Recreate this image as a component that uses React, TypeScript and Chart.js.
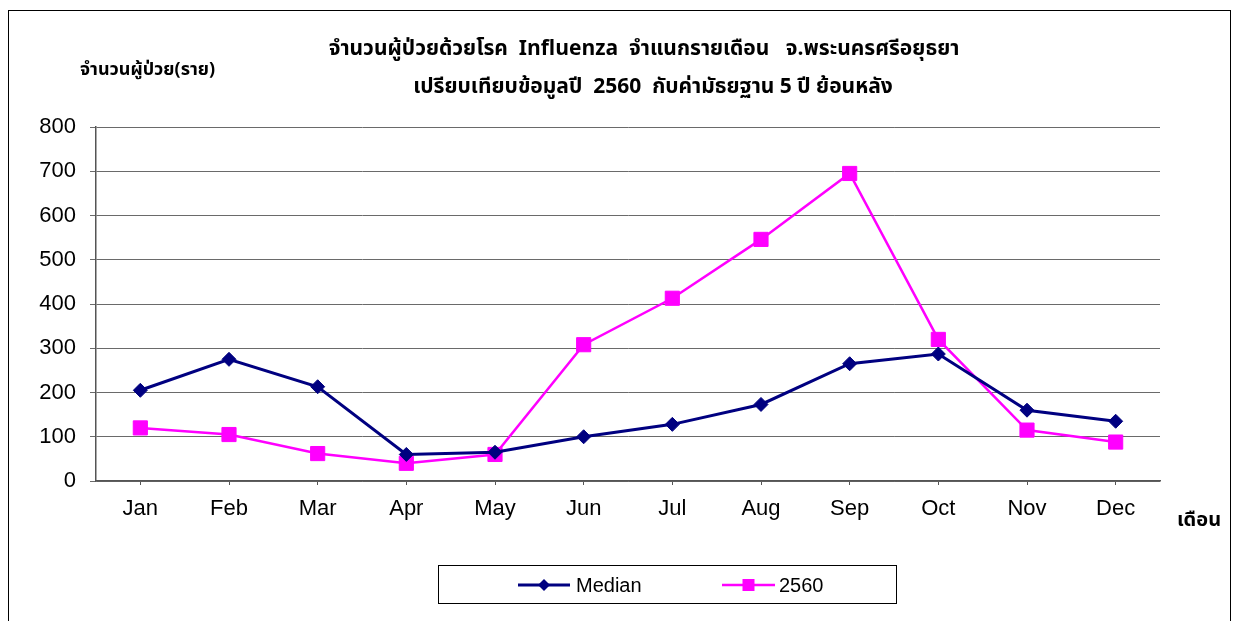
import React, { useEffect, useRef } from "react";
import { Chart, registerables } from "chart.js";

Chart.register(...registerables);

const months = ["Jan", "Feb", "Mar", "Apr", "May", "Jun", "Jul", "Aug", "Sep", "Oct", "Nov", "Dec"];
const medianValues = [205, 275, 213, 60, 65, 100, 128, 173, 265, 287, 160, 135];
const y2560Values = [120, 105, 62, 40, 60, 308, 413, 546, 695, 320, 115, 88];
const titleLines = [
  "จำนวนผู้ป่วยด้วยโรค  Influenza  จำแนกรายเดือน   จ.พระนครศรีอยุธยา",
  "เปรียบเทียบข้อมูลปี  2560  กับค่ามัธยฐาน 5 ปี ย้อนหลัง",
];
const yAxisTitle = "จำนวนผู้ป่วย(ราย)";
const xAxisTitle = "เดือน";
const seriesNames = ["Median", "2560"];

const THAI_FONT = "'Noto Sans Thai', 'Loma', 'Garuda', 'Liberation Sans', 'DejaVu Sans', sans-serif";
const ARIAL = "'Liberation Sans', Arial, sans-serif";

const decorPlugin = {
  id: "decor",
  afterDraw(chart: any) {
    const ctx = chart.ctx;
    ctx.save();
    // outer frame
    ctx.strokeStyle = "#000";
    ctx.lineWidth = 1;
    ctx.strokeRect(8.5, 10.5, 1222, 640);
    // titles
    ctx.fillStyle = "#000";
    ctx.textBaseline = "middle";
    ctx.textAlign = "center";
    ctx.font = `bold 21px ${THAI_FONT}`;
    ctx.fillText(titleLines[0], 644, 51);
    ctx.fillText(titleLines[1], 653, 89);
    ctx.textAlign = "left";
    ctx.font = `bold 18px ${THAI_FONT}`;
    ctx.fillText(yAxisTitle, 80, 71);
    ctx.font = `bold 20px ${THAI_FONT}`;
    ctx.fillText(xAxisTitle, 1177, 522);
    // legend
    ctx.strokeRect(438.5, 565.5, 458, 38);
    const items = [
      { x0: 518, x1: 570, tx: 576 },
      { x0: 722, x1: 775, tx: 779 },
    ];
    const ly = 585;
    chart.data.datasets.forEach((ds: any, i: number) => {
      const it = items[i];
      ctx.strokeStyle = ds.borderColor;
      ctx.lineWidth = ds.borderWidth;
      ctx.beginPath();
      ctx.moveTo(it.x0, ly);
      ctx.lineTo(it.x1, ly);
      ctx.stroke();
      ctx.fillStyle = ds.pointBackgroundColor;
      const cx = (it.x0 + it.x1) / 2;
      ctx.beginPath();
      if (ds.pointStyle === "rectRot") {
        const r = 6;
        ctx.moveTo(cx, ly - r);
        ctx.lineTo(cx + r, ly);
        ctx.lineTo(cx, ly + r);
        ctx.lineTo(cx - r, ly);
        ctx.closePath();
      } else {
        ctx.rect(cx - 6, ly - 6, 12, 12);
      }
      ctx.fill();
      ctx.fillStyle = "#000";
      ctx.font = `20px ${ARIAL}`;
      ctx.textAlign = "left";
      ctx.fillText(ds.label, it.tx, ly + 1);
    });
    ctx.restore();
  },
};

export default function App() {
  const ref = useRef<HTMLCanvasElement>(null);
  useEffect(() => {
    const canvas = ref.current!;
    const chart = new Chart(canvas, {
      type: "line",
      data: {
        labels: months,
        datasets: [
          {
            label: seriesNames[0],
            data: medianValues,
            borderColor: "#000080",
            backgroundColor: "#000080",
            pointBackgroundColor: "#000080",
            pointBorderColor: "#000080",
            borderWidth: 3,
            pointStyle: "rectRot",
            pointRadius: 7,
            pointBorderWidth: 1,
            tension: 0,
          },
          {
            label: seriesNames[1],
            data: y2560Values,
            borderColor: "#FF00FF",
            backgroundColor: "#FF00FF",
            pointBackgroundColor: "#FF00FF",
            pointBorderColor: "#FF00FF",
            borderWidth: 2.5,
            pointStyle: "rect",
            pointRadius: 10,
            pointBorderWidth: 1,
            tension: 0,
          },
        ],
      },
      options: {
        responsive: false,
        animation: false,
        layout: { padding: { left: 8, right: 79, top: 127, bottom: 100 } },
        plugins: {
          legend: { display: false },
          title: { display: false },
          tooltip: { enabled: false },
        },
        scales: {
          x: {
            offset: true,
            grid: {
              display: true,
              drawOnChartArea: false,
              drawTicks: true,
              tickLength: 4,
              offset: false,
              color: "#555",
            },
            border: { display: true, color: "#555", width: 1.5 },
            ticks: { color: "#000", font: { family: ARIAL, size: 22 }, padding: 11, maxRotation: 0 },
            afterFit: (s: any) => {
              s.height = 40;
            },
          },
          y: {
            min: 0,
            max: 800,
            ticks: { stepSize: 100, color: "#000", font: { family: ARIAL, size: 22 }, padding: 14 },
            grid: { color: "#6a6a6a", lineWidth: 1, tickLength: 6 },
            border: { display: true, color: "#555", width: 1.5 },
            afterFit: (s: any) => {
              s.width = 88;
            },
          },
        },
      },
      plugins: [decorPlugin],
    });
    return () => chart.destroy();
  }, []);
  return (
    <div style={{ position: "fixed", left: 0, top: 0, width: 1239, height: 621, background: "#fff" }}>
      <canvas ref={ref} width={1239} height={621} style={{ display: "block" }} />
    </div>
  );
}
